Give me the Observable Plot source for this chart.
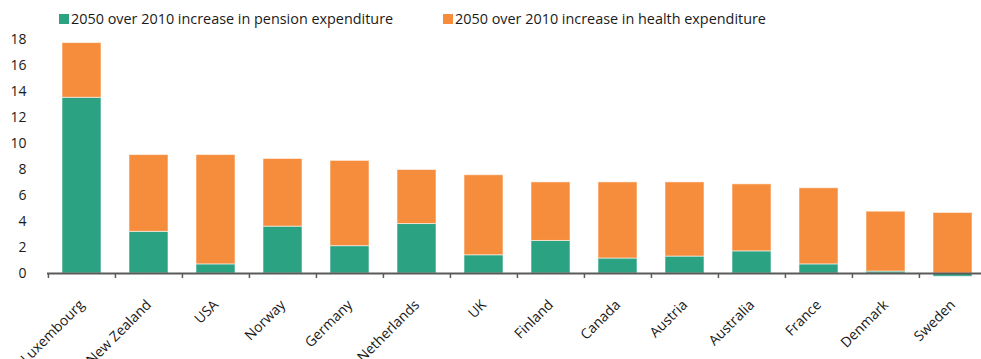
<!DOCTYPE html>
<html>
<head>
<meta charset="utf-8">
<script src="https://cdn.jsdelivr.net/npm/d3@7"></script>
<script src="https://cdn.jsdelivr.net/npm/@observablehq/plot@0.6"></script>
<style>
  html, body { margin: 0; padding: 0; background: #fff; }
  body { width: 981px; height: 359px; overflow: hidden; font-family: "Open Sans", sans-serif; color: #1a1a1a; }
  #legend { position: relative; height: 30px; font-size: 14.4px; }
  .item { position: absolute; top: 9px; display: flex; align-items: center; white-space: nowrap; }
  .sw { width: 10px; height: 10px; margin-right: 2px; }
</style>
</head>
<body>
<div id="legend"></div>
<div id="chart"></div>
<script>
const countries = ["Luxembourg", "New Zealand", "USA", "Norway", "Germany", "Netherlands", "UK", "Finland", "Canada", "Austria", "Australia", "France", "Denmark", "Sweden"];
const pension = [13.5, 3.2, 0.7, 3.6, 2.1, 3.8, 1.4, 2.5, 1.15, 1.3, 1.7, 0.7, 0.15, -0.25];
const health  = [4.2, 5.9, 8.4, 5.2, 6.55, 4.15, 6.15, 4.5, 5.85, 5.7, 5.15, 5.85, 4.6, 4.65];
const seriesKeys = ["pension", "health"];
const seriesLabels = ["2050 over 2010 increase in pension expenditure", "2050 over 2010 increase in health expenditure"];
const seriesColors = ["#2ba383", "#f68d3d"];
const yTicks = [0, 2, 4, 6, 8, 10, 12, 14, 16, 18];

const data = countries.flatMap((c, i) => [
  {country: c, series: "pension", value: pension[i]},
  {country: c, series: "health", value: health[i]}
]);

// legend
const legend = document.getElementById("legend");
const legendLeft = [59, 443];
seriesLabels.forEach((lab, i) => {
  const it = document.createElement("div");
  it.className = "item";
  it.style.left = legendLeft[i] + "px";
  const sw = document.createElement("span");
  sw.className = "sw";
  sw.style.background = seriesColors[i];
  const tx = document.createElement("span");
  tx.textContent = lab;
  it.appendChild(sw); it.appendChild(tx);
  legend.appendChild(it);
});

const xLeft = 47, xRight = 987;
const step = (xRight - xLeft) / countries.length;

const chart = Plot.plot({
  width: 981,
  height: 329,
  marginTop: 8.7,
  marginBottom: 86,
  marginLeft: 47,
  marginRight: 0,
  style: {fontFamily: "Open Sans, sans-serif", fontSize: "14px", color: "#1a1a1a", overflow: "visible"},
  x: {domain: countries, range: [xLeft, xRight], paddingInner: 0.42, paddingOuter: 0.21, label: null},
  y: {domain: [0, 18], label: null},
  color: {domain: seriesKeys, range: seriesColors},
  marks: [
    Plot.gridY(yTicks, {stroke: "#9a9a9a", strokeOpacity: 1, strokeWidth: 1.5, x1: xLeft, x2: 981}),
    Plot.barY(data, {x: "country", y: "value", fill: "series", stroke: "white", strokeOpacity: 0.55, strokeWidth: 1}),
    Plot.ruleY([0], {stroke: "#5a5a5a", strokeWidth: 2}),
    Plot.axisX({tickSize: 5, tickFormat: () => "", dx: -step / 2, stroke: "#5a5a5a", strokeWidth: 1.5, tickPadding: 0}),
    Plot.axisX({tickSize: 0, tickRotate: -45, tickPadding: 29, dx: 0, fontSize: 14}),
    Plot.axisY(yTicks, {tickSize: 0, tickPadding: 21, fontSize: 14})
  ]
});
document.getElementById("chart").appendChild(chart);
</script>
</body>
</html>
